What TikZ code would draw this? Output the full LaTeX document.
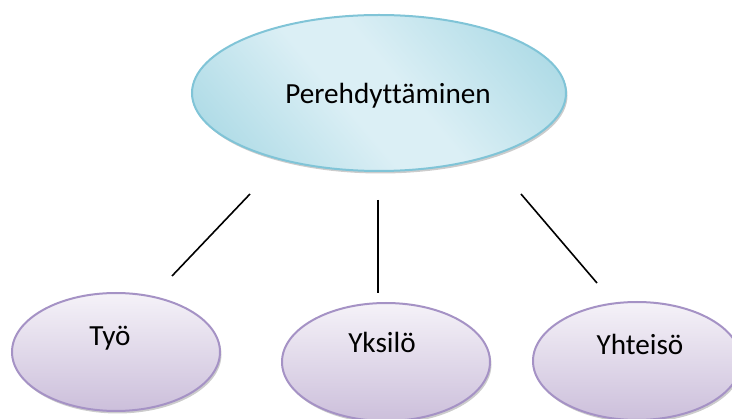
\documentclass[tikz,border=0pt]{standalone}
\usepackage{fontspec}
\setmainfont{Carlito}[Ligatures=NoCommon]
\usetikzlibrary{shapes.geometric,shadows}

\definecolor{topfill}{HTML}{DBEFF5}
\definecolor{topedge}{HTML}{A8D8E4}
\definecolor{topline}{HTML}{80C4D7}
\definecolor{leaffill}{HTML}{F5F2F8}
\definecolor{leafedge}{HTML}{CCBFDB}
\definecolor{leafline}{HTML}{A592C5}
\pgfdeclarehorizontalshading{bandshade}{100bp}{color(0bp)=(topedge);
  color(18bp)=(topedge); color(44bp)=(topfill); color(54bp)=(topfill);
  color(82bp)=(topedge); color(100bp)=(topedge)}

\begin{document}
\begin{tikzpicture}[x=1pt, y=-1pt,
    oval/.style={ellipse, inner sep=0pt, outer sep=0pt, line width=2pt,
      drop shadow={shadow xshift=1.5pt, shadow yshift=-2.5pt, fill=black!40}},
    main/.style={oval, draw=topline, shading=bandshade, shading angle=40,
      minimum width=374pt, minimum height=156pt},
    leaf/.style={oval, draw=leafline, top color=leaffill, bottom color=leafedge,
      minimum width=208pt, minimum height=118pt},
    txt/.style={anchor=base, inner sep=0pt, font=\fontsize{29.2}{34}\selectfont},
    link/.style={line width=1.6pt}]
    \useasboundingbox (0, 0) rectangle (732, 419);

    \node[main] (pere) at (379, 93) {};
    \node[leaf] (tyo) at (116, 352) {};
    \node[leaf] (yksilo) at (386, 362) {};
    \node[leaf] (yhteiso) at (637, 361) {};

    \node[txt] (peretxt) at (388, 104) {Perehdyttäminen};
    \node[txt] (tyotxt) at (110, 346) {Työ};
    \node[txt] (yksilotxt) at (382, 353) {Yksilö};
    \node[txt] (yhteisotxt) at (640, 355) {Yhteisö};

    \coordinate (l1) at (250, 194);
    \coordinate (l2) at (172, 276);
    \coordinate (m1) at (378, 200);
    \coordinate (m2) at (378, 293);
    \coordinate (r1) at (521, 194);
    \coordinate (r2) at (597, 283);
    \draw[link] (l1) -- (l2);
    \draw[link] (m1) -- (m2);
    \draw[link] (r1) -- (r2);
\end{tikzpicture}
\end{document}
